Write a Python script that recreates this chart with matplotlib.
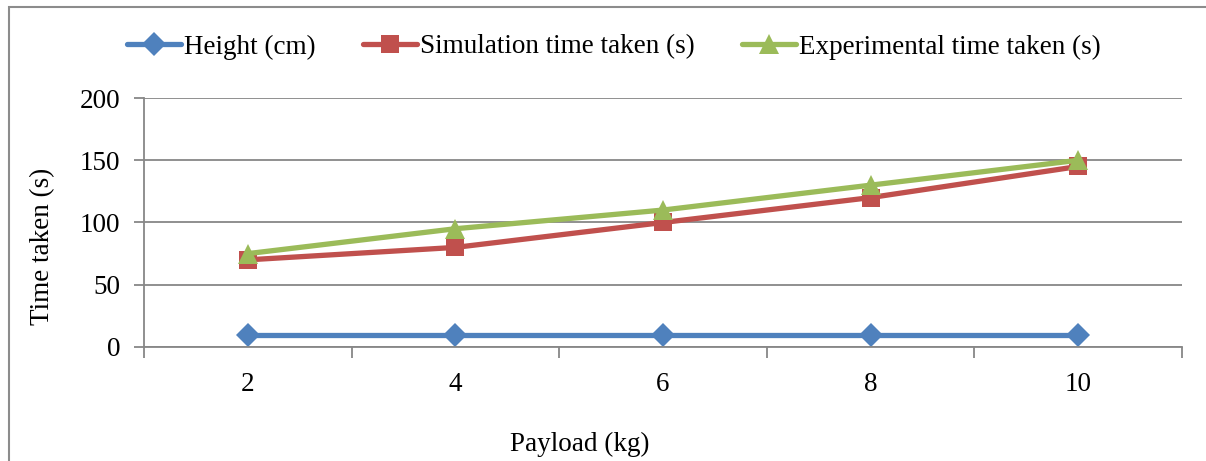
import matplotlib
matplotlib.use("Agg")
import matplotlib.pyplot as plt
from matplotlib.patches import Rectangle

# Payload categories and measured series
payload = ["2", "4", "6", "8", "10"]
height_cm = [10, 10, 10, 10, 10]
sim_time = [70, 80, 100, 120, 145]
exp_time = [75, 95, 110, 130, 150]

W, H = 1206, 461
plt.rcParams["font.family"] = ["Liberation Serif", "DejaVu Serif"]
plt.rcParams["font.size"] = 19.5

fig = plt.figure(figsize=(W / 100, H / 100), dpi=100)
fig.patch.set_facecolor("white")

# outer chart frame (runs off the right and bottom edge)
fig.patches.append(Rectangle((9 / W, -0.05), 1.1, 1.05 - 7 / H,
                             transform=fig.transFigure, fill=False,
                             edgecolor="#8c8c8c", linewidth=1.5))

ax = fig.add_axes([144 / W, 1 - 347 / H, (1182 - 144) / W, (347 - 98) / H])

grey = "#878787"
l1, = ax.plot(payload, height_cm, color="#4F81BD", lw=3.8, marker="D",
              markersize=12, markeredgewidth=0, solid_capstyle="round",
              label="Height (cm)")
l2, = ax.plot(payload, sim_time, color="#C0504D", lw=3.8, marker="s",
              markersize=13.5, markeredgewidth=0, solid_capstyle="round",
              label="Simulation time taken (s)")
l3, = ax.plot(payload, exp_time, color="#9BBB59", lw=3.8, marker="^",
              markersize=14.5, markeredgewidth=0, solid_capstyle="round",
              label="Experimental time taken (s)")

ax.set_xlim(-0.5, len(payload) - 0.5)
ax.set_ylim(0, 200)
ax.set_yticks([0, 50, 100, 150, 200])
ax.yaxis.grid(True, color=grey, lw=1.3)
ax.set_axisbelow(True)

# category labels centred, tick marks at category boundaries
ax.set_xticks([i - 0.5 for i in range(len(payload) + 1)])
ax.set_xticklabels([])
ax.set_xticks(range(len(payload)), minor=True)
ax.set_xticklabels(payload, minor=True)
ax.tick_params(axis="x", which="major", length=8, width=1.3, color=grey, direction="out")
ax.tick_params(axis="x", which="minor", length=0, pad=18)
ax.tick_params(axis="y", length=7, width=1.3, color=grey, pad=10)

for s in ["top", "right"]:
    ax.spines[s].set_visible(False)
for s in ["left", "bottom"]:
    ax.spines[s].set_color(grey)
    ax.spines[s].set_linewidth(1.3)

fig.text(43 / W, 1 - 246 / H, "Time taken (s)", rotation=90,
         ha="center", va="center")
fig.text(580 / W, 1 - 444 / H, "Payload (kg)", ha="center", va="center")

fig.legend(handles=[l1, l2, l3], loc="center", ncol=3,
           bbox_to_anchor=(614 / W, 1 - 47 / H), frameon=False,
           handlelength=2.0, handletextpad=0.1, columnspacing=1.75,
           borderaxespad=0)

fig.savefig("out.png", dpi=100, facecolor="white")
